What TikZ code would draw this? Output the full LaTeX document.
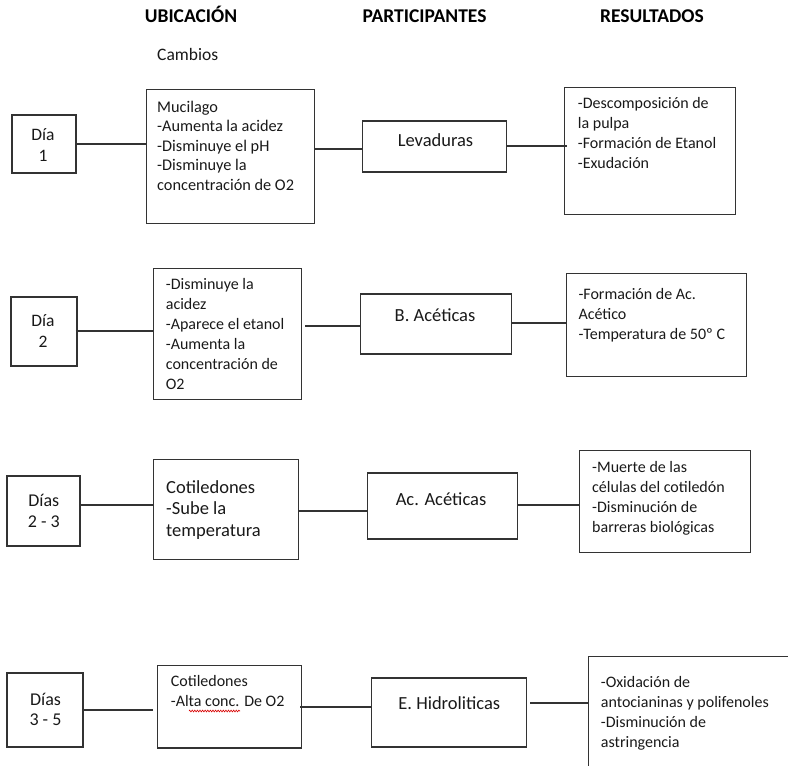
\documentclass[tikz,border=0pt]{standalone}
\usepackage{fontspec}
\setmainfont{Carlito}
\usetikzlibrary{decorations.pathmorphing}
\newcommand\myblk[1]{\begin{tabular}[t]{@{}l@{}}#1\end{tabular}}
\newcommand\myctr[1]{\begin{tabular}[t]{@{}c@{}}#1\end{tabular}}
\begin{document}
\begin{tikzpicture}[x=1bp,y=-1bp,
  box/.style={draw=black!80, line width=1.3bp, rectangle, inner sep=0pt},
  link/.style={draw=black!80, line width=1.3bp},
  txt/.style={inner sep=0pt, anchor=base west, text=black!90},
  ctxt/.style={inner sep=0pt, anchor=base, text=black!90},
  head/.style={inner sep=0pt, anchor=base, font=\bfseries\fontsize{19.5bp}{23bp}\selectfont},
  body/.style={font=\fontsize{16bp}{20bp}\selectfont},
  day/.style={font=\fontsize{17.5bp}{21bp}\selectfont},
  big/.style={font=\fontsize{18.5bp}{21.5bp}\selectfont}]
\clip (0,0) rectangle (788,766);
\useasboundingbox (0,0) rectangle (788,766);

% headers
\node[head] (h1) at (191,23) {UBICACIÓN};
\node[head] (h2) at (424.5,23) {PARTICIPANTES};
\node[head] (h3) at (652,23) {RESULTADOS};
\node[txt, font=\fontsize{17.5bp}{21bp}\selectfont] (cam) at (157,61) {Cambios};

% ---------- row 1
\node[box, minimum width=64, minimum height=58] (d1) at (44,144) {};
\node[box, minimum width=169, minimum height=135] (m1) at (230.5,156.5) {};
\node[box, minimum width=145, minimum height=51] (p1) at (434.5,146.5) {};
\node[box, minimum width=172, minimum height=128] (r1) at (650,151) {};
\node[ctxt, day] (d1t) at (43,140) {\myctr{Día\\1}};
\node[txt, font=\fontsize{16.3bp}{19.5bp}\selectfont] (m1t) at (157,112.3) {\myblk{Mucilago\\-Aumenta la acidez\\-Disminuye el pH\\-Disminuye la\\concentración de O2}};
\node[ctxt, big] (p1t) at (435.5,146) {Levaduras};
\node[txt, body] (r1t) at (577.7,108.3) {\myblk{-Descomposición de\\la pulpa\\-Formación de Etanol\\-Exudación}};
\draw[link] (d1.east |- 0,144) -- (m1.west |- 0,144);
\draw[link] (m1.east |- 0,149) -- (p1.west |- 0,149);
\draw[link] (p1.east |- 0,146) -- ([xshift=3]r1.west |- 0,146);

% ---------- row 2
\node[box, minimum width=66, minimum height=69] (d2) at (44,331.5) {};
\node[box, minimum width=149, minimum height=132] (m2) at (227.5,334) {};
\node[box, minimum width=152, minimum height=60] (p2) at (436,324) {};
\node[box, minimum width=181, minimum height=104] (r2) at (656.5,325) {};
\node[ctxt, day] (d2t) at (43,326.7) {\myctr{Día\\2}};
\node[txt, body] (m2t) at (165.7,289.3) {\myblk{-Disminuye la\\acidez\\-Aparece el etanol\\-Aumenta la\\concentración de\\O2}};
\node[ctxt, big] (p2t) at (435,321) {B. Acéticas};
\node[txt, body] (r2t) at (578.3,299.3) {\myblk{-Formación de Ac.\\Acético\\-Temperatura de 50º C}};
\draw[link] ([xshift=-2]d2.east |- 0,331) -- ([xshift=1]m2.west |- 0,331);
\draw[link] ([xshift=3]m2.east |- 0,326) -- (p2.west |- 0,326);
\draw[link] (p2.east |- 0,323) -- (r2.west |- 0,323);

% ---------- row 3
\node[box, minimum width=73, minimum height=70] (d3) at (43.5,511) {};
\node[box, minimum width=146, minimum height=101] (m3) at (226,509.5) {};
\node[box, minimum width=151, minimum height=66] (p3) at (442.5,506) {};
\node[box, minimum width=172, minimum height=103] (r3) at (665,501.5) {};
\node[ctxt, font=\fontsize{18bp}{21bp}\selectfont] (d3t) at (43.8,506) {\myctr{Días\\2 - 3}};
\node[txt, font=\fontsize{18.5bp}{21.5bp}\selectfont] (m3t) at (166,493.3) {\myblk{Cotiledones\\-Sube la\\temperatura}};
\node[ctxt, big] (p3t) at (441,505) {Ac. Acéticas};
\node[txt, body] (r3t) at (592,472.3) {\myblk{-Muerte de las\\células del cotiledón\\-Disminución de\\barreras biológicas}};
\draw[link] (d3.east |- 0,505) -- (m3.west |- 0,505);
\draw[link] (m3.east |- 0,511) -- (p3.west |- 0,511);
\draw[link] (p3.east |- 0,505) -- (r3.west |- 0,505);

% ---------- row 4
\node[box, minimum width=76, minimum height=74] (d4) at (45,710) {};
\node[box, minimum width=145, minimum height=83] (m4) at (229.5,706.5) {};
\node[box, minimum width=156, minimum height=69] (p4) at (449,712.5) {};
\node[box, minimum width=212, minimum height=124] (r4) at (694,718) {};
\node[ctxt, font=\fontsize{18bp}{20.5bp}\selectfont] (d4t) at (45.5,705) {\myctr{Días\\3 - 5}};
\node[txt, body] (m4t) at (170.7,686.7) {\myblk{Cotiledones\\-Alta conc. De O2}};
\node[ctxt, big] (p4t) at (449.3,709.3) {E. Hidroliticas};
\node[txt, body] (r4t) at (600.7,687.7) {\myblk{-Oxidación de\\antocianinas y polifenoles\\-Disminución de\\astringencia}};
\draw[link] (d4.east |- 0,710) -- ([xshift=-4]m4.west |- 0,710);
\draw[link] ([xshift=-2]m4.east |- 0,707) -- (p4.west |- 0,707);
\draw[link] ([xshift=3]p4.east |- 0,703) -- (r4.west |- 0,703);
\coordinate (sq1) at (189,711);
\coordinate (sq2) at (240,711);
\draw[red!85!black, line width=0.6bp, decorate, decoration={zigzag, amplitude=0.9pt, segment length=2.6pt}] (sq1) -- (sq2);
\end{tikzpicture}
\end{document}
